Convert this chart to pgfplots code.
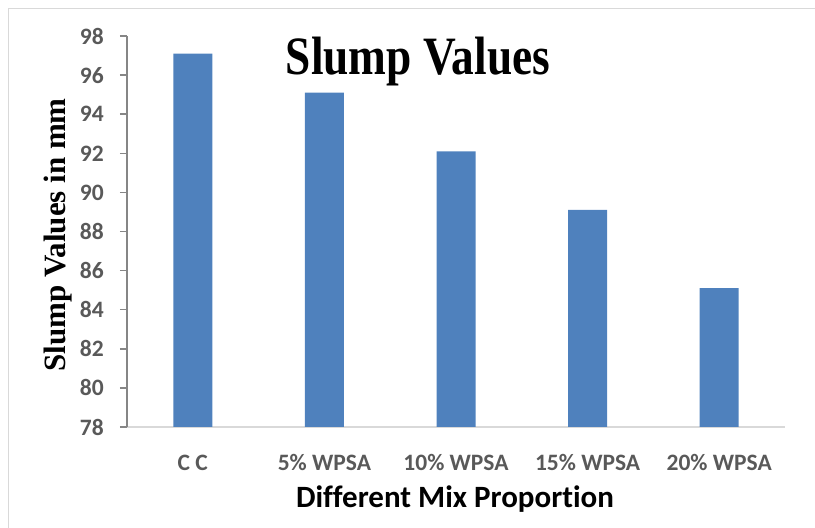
\documentclass[border=0pt]{standalone}
\usepackage{fontspec}
\setmainfont{Carlito}[Ligatures=NoCommon]
\newfontfamily\timesf{Liberation Serif}
\usepackage{graphicx}
\usepackage{pgfplots}
\pgfplotsset{compat=1.18}
\definecolor{barblue}{HTML}{4F81BD}
\definecolor{ticktext}{HTML}{595959}
\definecolor{yaxisc}{HTML}{868686}
\definecolor{xaxisc}{HTML}{D9D9D9}
\definecolor{framec}{HTML}{D9D9D9}
\begin{document}
\begin{tikzpicture}[x=1pt,y=1pt]
\useasboundingbox (0,0) rectangle (815,528);
\draw[framec, line width=1.5pt] (8.5,0) -- (8.5,519.5) -- (815,519.5);
\begin{axis}[
  at={(127pt,101pt)}, anchor=south west,
  scale only axis, width=658pt, height=391pt,
  xmin=-0.5, xmax=4.5, ymin=78, ymax=98,
  ytick={78,80,...,98},
  xtick={0,1,2,3,4},
  xticklabels={C C, 5\% WPSA, 10\% WPSA, 15\% WPSA, 20\% WPSA},
  axis x line*=bottom, axis y line*=left,
  x axis line style={xaxisc, line width=2pt},
  y axis line style={yaxisc, line width=1.5pt},
  xtick style={draw=none},
  ytick style={yaxisc, line width=1.5pt},
  tick align=outside, major tick length=7pt,
  /pgf/number format/assume math mode=true,
  ticklabel style={font=\fontsize{23.5}{27}\selectfont\bfseries, text=ticktext},
  xticklabel style={anchor=base, yshift=-36pt},
  yticklabel style={anchor=east, inner sep=0pt, xshift=-16pt},
  clip=false,
]
\addplot[ybar, bar width=39pt, fill=barblue, draw=none] coordinates {
  (0,97.1) (1,95.1) (2,92.1) (3,89.1) (4,85.1)
};
\end{axis}
\node[anchor=base] at (418,453) {\scalebox{0.84}[1]{\fontsize{54}{60}\selectfont\timesf\bfseries Slump Values}};
\node[rotate=90, anchor=base] at (65,293) {\fontsize{31}{36}\selectfont\timesf\bfseries Slump Values in mm};
\node[anchor=base] at (455,20) {\fontsize{31}{36}\selectfont\bfseries Different Mix Proportion};
\end{tikzpicture}
\end{document}
